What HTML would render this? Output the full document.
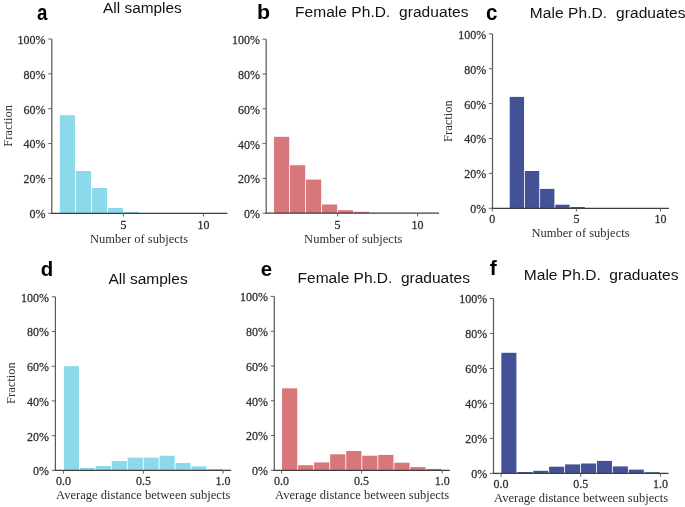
<!DOCTYPE html>
<html><head><meta charset="utf-8"><style>
html,body{margin:0;padding:0;background:#fff;}
body{width:685px;height:507px;overflow:hidden;}
svg{display:block;will-change:transform;}
.tl{font-family:"Liberation Serif", serif;font-size:12.0px;fill:#2e2e2e;stroke:#2e2e2e;stroke-width:0.25px;}
.xl{font-family:"Liberation Serif", serif;font-size:12.55px;fill:#2e2e2e;}
.let{font-family:"Liberation Sans", sans-serif;font-size:21px;font-weight:bold;fill:#000;}
.tt{font-family:"Liberation Sans", sans-serif;font-size:15.4px;fill:#111;white-space:pre;}
</style></head><body>
<svg width="685" height="507" viewBox="0 0 685 507">
<rect width="685" height="507" fill="#fff"/>
<rect x="59.82" y="115.20" width="15.15" height="98.10" fill="#8dd9ec"/>
<rect x="75.83" y="171.00" width="15.15" height="42.30" fill="#8dd9ec"/>
<rect x="91.83" y="188.00" width="15.15" height="25.30" fill="#8dd9ec"/>
<rect x="107.83" y="208.00" width="15.15" height="5.30" fill="#8dd9ec"/>
<rect x="123.83" y="211.80" width="15.15" height="1.50" fill="#8dd9ec"/>
<line x1="51.80" y1="39.00" x2="51.80" y2="213.30" stroke="#5c5c5c" stroke-width="1.25"/>
<line x1="51.10" y1="213.30" x2="227.30" y2="213.30" stroke="#3e3e3e" stroke-width="1.3"/>
<line x1="48.20" y1="213.30" x2="51.80" y2="213.30" stroke="#5a5a5a" stroke-width="0.95"/>
<text transform="translate(45.50,218.20) scale(1,1.1)" text-anchor="end" class="tl">0%</text>
<line x1="48.20" y1="178.44" x2="51.80" y2="178.44" stroke="#5a5a5a" stroke-width="0.95"/>
<text transform="translate(45.50,183.34) scale(1,1.1)" text-anchor="end" class="tl">20%</text>
<line x1="48.20" y1="143.58" x2="51.80" y2="143.58" stroke="#5a5a5a" stroke-width="0.95"/>
<text transform="translate(45.50,148.48) scale(1,1.1)" text-anchor="end" class="tl">40%</text>
<line x1="48.20" y1="108.72" x2="51.80" y2="108.72" stroke="#5a5a5a" stroke-width="0.95"/>
<text transform="translate(45.50,113.62) scale(1,1.1)" text-anchor="end" class="tl">60%</text>
<line x1="48.20" y1="73.86" x2="51.80" y2="73.86" stroke="#5a5a5a" stroke-width="0.95"/>
<text transform="translate(45.50,78.76) scale(1,1.1)" text-anchor="end" class="tl">80%</text>
<line x1="48.20" y1="39.00" x2="51.80" y2="39.00" stroke="#5a5a5a" stroke-width="0.95"/>
<text transform="translate(45.50,43.90) scale(1,1.1)" text-anchor="end" class="tl">100%</text>
<line x1="123.40" y1="213.30" x2="123.40" y2="216.50" stroke="#5a5a5a" stroke-width="0.95"/>
<text transform="translate(123.40,229.10) scale(1,1.1)" text-anchor="middle" class="tl">5</text>
<line x1="203.40" y1="213.30" x2="203.40" y2="216.50" stroke="#5a5a5a" stroke-width="0.95"/>
<text transform="translate(203.40,229.10) scale(1,1.1)" text-anchor="middle" class="tl">10</text>
<text transform="translate(139.10,242.70) scale(1,1.07)" text-anchor="middle" class="xl">Number of subjects</text>
<text x="0" y="0" text-anchor="middle" class="xl" transform="translate(11.80,125.90) rotate(-90) scale(1,1.07)">Fraction</text>
<text transform="translate(37.10,20.00) scale(0.85,1)" class="let" style="font-size:22px">a</text>
<text x="103.07" y="13.00" class="tt" style="font-size:15.4px;letter-spacing:0px" xml:space="preserve">All samples</text>
<rect x="274.03" y="136.80" width="15.15" height="76.40" fill="#d7777a"/>
<rect x="290.03" y="165.20" width="15.15" height="48.00" fill="#d7777a"/>
<rect x="306.03" y="179.60" width="15.15" height="33.60" fill="#d7777a"/>
<rect x="322.03" y="204.50" width="15.15" height="8.70" fill="#d7777a"/>
<rect x="338.03" y="210.20" width="15.15" height="3.00" fill="#d7777a"/>
<rect x="354.03" y="211.80" width="15.15" height="1.40" fill="#d7777a"/>
<line x1="266.20" y1="39.20" x2="266.20" y2="213.20" stroke="#5c5c5c" stroke-width="1.25"/>
<line x1="265.50" y1="213.20" x2="439.10" y2="213.20" stroke="#3e3e3e" stroke-width="1.3"/>
<line x1="262.60" y1="213.20" x2="266.20" y2="213.20" stroke="#5a5a5a" stroke-width="0.95"/>
<text transform="translate(259.90,218.10) scale(1,1.1)" text-anchor="end" class="tl">0%</text>
<line x1="262.60" y1="178.40" x2="266.20" y2="178.40" stroke="#5a5a5a" stroke-width="0.95"/>
<text transform="translate(259.90,183.30) scale(1,1.1)" text-anchor="end" class="tl">20%</text>
<line x1="262.60" y1="143.60" x2="266.20" y2="143.60" stroke="#5a5a5a" stroke-width="0.95"/>
<text transform="translate(259.90,148.50) scale(1,1.1)" text-anchor="end" class="tl">40%</text>
<line x1="262.60" y1="108.80" x2="266.20" y2="108.80" stroke="#5a5a5a" stroke-width="0.95"/>
<text transform="translate(259.90,113.70) scale(1,1.1)" text-anchor="end" class="tl">60%</text>
<line x1="262.60" y1="74.00" x2="266.20" y2="74.00" stroke="#5a5a5a" stroke-width="0.95"/>
<text transform="translate(259.90,78.90) scale(1,1.1)" text-anchor="end" class="tl">80%</text>
<line x1="262.60" y1="39.20" x2="266.20" y2="39.20" stroke="#5a5a5a" stroke-width="0.95"/>
<text transform="translate(259.90,44.10) scale(1,1.1)" text-anchor="end" class="tl">100%</text>
<line x1="337.60" y1="213.20" x2="337.60" y2="216.40" stroke="#5a5a5a" stroke-width="0.95"/>
<text transform="translate(337.60,229.20) scale(1,1.1)" text-anchor="middle" class="tl">5</text>
<line x1="417.60" y1="213.20" x2="417.60" y2="216.40" stroke="#5a5a5a" stroke-width="0.95"/>
<text transform="translate(417.60,229.20) scale(1,1.1)" text-anchor="middle" class="tl">10</text>
<text transform="translate(353.20,242.70) scale(1,1.07)" text-anchor="middle" class="xl">Number of subjects</text>
<text transform="translate(257.00,19.00) scale(1.05,1)" class="let" style="font-size:20.4px">b</text>
<text x="295.00" y="17.00" class="tt" style="font-size:15.5px;letter-spacing:0.05px" xml:space="preserve">Female Ph.D.  graduates</text>
<rect x="509.73" y="96.90" width="14.33" height="111.40" fill="#435296"/>
<rect x="524.90" y="171.00" width="14.33" height="37.30" fill="#435296"/>
<rect x="540.08" y="188.90" width="14.33" height="19.40" fill="#435296"/>
<rect x="555.26" y="204.70" width="14.33" height="3.60" fill="#435296"/>
<rect x="570.44" y="207.00" width="14.33" height="1.30" fill="#435296"/>
<line x1="492.50" y1="33.80" x2="492.50" y2="208.30" stroke="#5c5c5c" stroke-width="1.25"/>
<line x1="491.80" y1="208.30" x2="668.90" y2="208.30" stroke="#3e3e3e" stroke-width="1.3"/>
<line x1="488.90" y1="208.30" x2="492.50" y2="208.30" stroke="#5a5a5a" stroke-width="0.95"/>
<text transform="translate(486.20,213.20) scale(1,1.1)" text-anchor="end" class="tl">0%</text>
<line x1="488.90" y1="173.40" x2="492.50" y2="173.40" stroke="#5a5a5a" stroke-width="0.95"/>
<text transform="translate(486.20,178.30) scale(1,1.1)" text-anchor="end" class="tl">20%</text>
<line x1="488.90" y1="138.50" x2="492.50" y2="138.50" stroke="#5a5a5a" stroke-width="0.95"/>
<text transform="translate(486.20,143.40) scale(1,1.1)" text-anchor="end" class="tl">40%</text>
<line x1="488.90" y1="103.60" x2="492.50" y2="103.60" stroke="#5a5a5a" stroke-width="0.95"/>
<text transform="translate(486.20,108.50) scale(1,1.1)" text-anchor="end" class="tl">60%</text>
<line x1="488.90" y1="68.70" x2="492.50" y2="68.70" stroke="#5a5a5a" stroke-width="0.95"/>
<text transform="translate(486.20,73.60) scale(1,1.1)" text-anchor="end" class="tl">80%</text>
<line x1="488.90" y1="33.80" x2="492.50" y2="33.80" stroke="#5a5a5a" stroke-width="0.95"/>
<text transform="translate(486.20,38.70) scale(1,1.1)" text-anchor="end" class="tl">100%</text>
<line x1="492.30" y1="208.30" x2="492.30" y2="211.50" stroke="#5a5a5a" stroke-width="0.95"/>
<text transform="translate(492.30,223.20) scale(1,1.1)" text-anchor="middle" class="tl">0</text>
<line x1="576.40" y1="208.30" x2="576.40" y2="211.50" stroke="#5a5a5a" stroke-width="0.95"/>
<text transform="translate(576.40,223.20) scale(1,1.1)" text-anchor="middle" class="tl">5</text>
<line x1="660.50" y1="208.30" x2="660.50" y2="211.50" stroke="#5a5a5a" stroke-width="0.95"/>
<text transform="translate(660.50,223.20) scale(1,1.1)" text-anchor="middle" class="tl">10</text>
<text transform="translate(580.50,237.00) scale(1,1.07)" text-anchor="middle" class="xl">Number of subjects</text>
<text x="0" y="0" text-anchor="middle" class="xl" transform="translate(451.50,121.10) rotate(-90) scale(1,1.07)">Fraction</text>
<text transform="translate(486.00,19.60) scale(0.95,1)" class="let" style="font-size:21.6px">c</text>
<text x="529.75" y="18.00" class="tt" style="font-size:15.5px;letter-spacing:0.08px" xml:space="preserve">Male Ph.D.  graduates</text>
<rect x="63.92" y="366.20" width="15.09" height="104.20" fill="#8dd9ec"/>
<rect x="79.86" y="468.00" width="15.09" height="2.40" fill="#8dd9ec"/>
<rect x="95.80" y="466.00" width="15.09" height="4.40" fill="#8dd9ec"/>
<rect x="111.74" y="461.00" width="15.09" height="9.40" fill="#8dd9ec"/>
<rect x="127.68" y="457.70" width="15.09" height="12.70" fill="#8dd9ec"/>
<rect x="143.62" y="457.70" width="15.09" height="12.70" fill="#8dd9ec"/>
<rect x="159.56" y="455.70" width="15.09" height="14.70" fill="#8dd9ec"/>
<rect x="175.50" y="463.00" width="15.09" height="7.40" fill="#8dd9ec"/>
<rect x="191.44" y="466.30" width="15.09" height="4.10" fill="#8dd9ec"/>
<rect x="207.39" y="469.00" width="15.09" height="1.40" fill="#8dd9ec"/>
<line x1="55.40" y1="296.80" x2="55.40" y2="470.40" stroke="#5c5c5c" stroke-width="1.25"/>
<line x1="54.70" y1="470.40" x2="231.20" y2="470.40" stroke="#3e3e3e" stroke-width="1.3"/>
<line x1="51.80" y1="470.40" x2="55.40" y2="470.40" stroke="#5a5a5a" stroke-width="0.95"/>
<text transform="translate(49.10,475.30) scale(1,1.1)" text-anchor="end" class="tl">0%</text>
<line x1="51.80" y1="435.68" x2="55.40" y2="435.68" stroke="#5a5a5a" stroke-width="0.95"/>
<text transform="translate(49.10,440.58) scale(1,1.1)" text-anchor="end" class="tl">20%</text>
<line x1="51.80" y1="400.96" x2="55.40" y2="400.96" stroke="#5a5a5a" stroke-width="0.95"/>
<text transform="translate(49.10,405.86) scale(1,1.1)" text-anchor="end" class="tl">40%</text>
<line x1="51.80" y1="366.24" x2="55.40" y2="366.24" stroke="#5a5a5a" stroke-width="0.95"/>
<text transform="translate(49.10,371.14) scale(1,1.1)" text-anchor="end" class="tl">60%</text>
<line x1="51.80" y1="331.52" x2="55.40" y2="331.52" stroke="#5a5a5a" stroke-width="0.95"/>
<text transform="translate(49.10,336.42) scale(1,1.1)" text-anchor="end" class="tl">80%</text>
<line x1="51.80" y1="296.80" x2="55.40" y2="296.80" stroke="#5a5a5a" stroke-width="0.95"/>
<text transform="translate(49.10,301.70) scale(1,1.1)" text-anchor="end" class="tl">100%</text>
<line x1="63.60" y1="470.40" x2="63.60" y2="473.60" stroke="#5a5a5a" stroke-width="0.95"/>
<text transform="translate(63.60,485.00) scale(1,1.1)" text-anchor="middle" class="tl">0.0</text>
<line x1="143.40" y1="470.40" x2="143.40" y2="473.60" stroke="#5a5a5a" stroke-width="0.95"/>
<text transform="translate(143.40,485.00) scale(1,1.1)" text-anchor="middle" class="tl">0.5</text>
<line x1="223.00" y1="470.40" x2="223.00" y2="473.60" stroke="#5a5a5a" stroke-width="0.95"/>
<text transform="translate(223.00,485.00) scale(1,1.1)" text-anchor="middle" class="tl">1.0</text>
<text transform="translate(143.20,499.00) scale(1,1.07)" text-anchor="middle" class="xl">Average distance between subjects</text>
<text x="0" y="0" text-anchor="middle" class="xl" transform="translate(15.00,383.10) rotate(-90) scale(1,1.07)">Fraction</text>
<text transform="translate(40.76,276.00) scale(1.0,1)" class="let" style="font-size:20.4px">d</text>
<text x="108.40" y="284.00" class="tt" style="font-size:15.5px;letter-spacing:0px" xml:space="preserve">All samples</text>
<rect x="282.03" y="388.30" width="15.19" height="82.00" fill="#d7777a"/>
<rect x="298.07" y="465.20" width="15.19" height="5.10" fill="#d7777a"/>
<rect x="314.11" y="462.40" width="15.19" height="7.90" fill="#d7777a"/>
<rect x="330.15" y="454.30" width="15.19" height="16.00" fill="#d7777a"/>
<rect x="346.19" y="451.00" width="15.19" height="19.30" fill="#d7777a"/>
<rect x="362.23" y="455.70" width="15.19" height="14.60" fill="#d7777a"/>
<rect x="378.27" y="454.90" width="15.19" height="15.40" fill="#d7777a"/>
<rect x="394.31" y="462.70" width="15.19" height="7.60" fill="#d7777a"/>
<rect x="410.35" y="467.10" width="15.19" height="3.20" fill="#d7777a"/>
<rect x="426.39" y="468.90" width="15.19" height="1.40" fill="#d7777a"/>
<line x1="274.30" y1="296.40" x2="274.30" y2="470.30" stroke="#5c5c5c" stroke-width="1.25"/>
<line x1="273.60" y1="470.30" x2="449.80" y2="470.30" stroke="#3e3e3e" stroke-width="1.3"/>
<line x1="270.70" y1="470.30" x2="274.30" y2="470.30" stroke="#5a5a5a" stroke-width="0.95"/>
<text transform="translate(268.00,475.20) scale(1,1.1)" text-anchor="end" class="tl">0%</text>
<line x1="270.70" y1="435.52" x2="274.30" y2="435.52" stroke="#5a5a5a" stroke-width="0.95"/>
<text transform="translate(268.00,440.42) scale(1,1.1)" text-anchor="end" class="tl">20%</text>
<line x1="270.70" y1="400.74" x2="274.30" y2="400.74" stroke="#5a5a5a" stroke-width="0.95"/>
<text transform="translate(268.00,405.64) scale(1,1.1)" text-anchor="end" class="tl">40%</text>
<line x1="270.70" y1="365.96" x2="274.30" y2="365.96" stroke="#5a5a5a" stroke-width="0.95"/>
<text transform="translate(268.00,370.86) scale(1,1.1)" text-anchor="end" class="tl">60%</text>
<line x1="270.70" y1="331.18" x2="274.30" y2="331.18" stroke="#5a5a5a" stroke-width="0.95"/>
<text transform="translate(268.00,336.08) scale(1,1.1)" text-anchor="end" class="tl">80%</text>
<line x1="270.70" y1="296.40" x2="274.30" y2="296.40" stroke="#5a5a5a" stroke-width="0.95"/>
<text transform="translate(268.00,301.30) scale(1,1.1)" text-anchor="end" class="tl">100%</text>
<line x1="281.60" y1="470.30" x2="281.60" y2="473.50" stroke="#5a5a5a" stroke-width="0.95"/>
<text transform="translate(281.60,485.00) scale(1,1.1)" text-anchor="middle" class="tl">0.0</text>
<line x1="361.60" y1="470.30" x2="361.60" y2="473.50" stroke="#5a5a5a" stroke-width="0.95"/>
<text transform="translate(361.60,485.00) scale(1,1.1)" text-anchor="middle" class="tl">0.5</text>
<line x1="442.20" y1="470.30" x2="442.20" y2="473.50" stroke="#5a5a5a" stroke-width="0.95"/>
<text transform="translate(442.20,485.00) scale(1,1.1)" text-anchor="middle" class="tl">1.0</text>
<text transform="translate(362.10,498.70) scale(1,1.07)" text-anchor="middle" class="xl">Average distance between subjects</text>
<text transform="translate(260.70,276.00) scale(1.0,1)" class="let" style="font-size:20.4px">e</text>
<text x="297.60" y="283.00" class="tt" style="font-size:15.5px;letter-spacing:0px" xml:space="preserve">Female Ph.D.  graduates</text>
<rect x="501.32" y="352.80" width="15.08" height="120.60" fill="#435296"/>
<rect x="517.25" y="472.00" width="15.08" height="1.40" fill="#435296"/>
<rect x="533.18" y="470.80" width="15.08" height="2.60" fill="#435296"/>
<rect x="549.11" y="466.70" width="15.08" height="6.70" fill="#435296"/>
<rect x="565.04" y="464.40" width="15.08" height="9.00" fill="#435296"/>
<rect x="580.97" y="463.50" width="15.08" height="9.90" fill="#435296"/>
<rect x="596.90" y="460.90" width="15.08" height="12.50" fill="#435296"/>
<rect x="612.83" y="466.40" width="15.08" height="7.00" fill="#435296"/>
<rect x="628.76" y="469.60" width="15.08" height="3.80" fill="#435296"/>
<rect x="644.69" y="472.20" width="15.08" height="1.20" fill="#435296"/>
<line x1="493.50" y1="298.50" x2="493.50" y2="473.40" stroke="#5c5c5c" stroke-width="1.25"/>
<line x1="492.80" y1="473.40" x2="668.60" y2="473.40" stroke="#3e3e3e" stroke-width="1.3"/>
<line x1="489.90" y1="473.40" x2="493.50" y2="473.40" stroke="#5a5a5a" stroke-width="0.95"/>
<text transform="translate(487.20,478.30) scale(1,1.1)" text-anchor="end" class="tl">0%</text>
<line x1="489.90" y1="438.42" x2="493.50" y2="438.42" stroke="#5a5a5a" stroke-width="0.95"/>
<text transform="translate(487.20,443.32) scale(1,1.1)" text-anchor="end" class="tl">20%</text>
<line x1="489.90" y1="403.44" x2="493.50" y2="403.44" stroke="#5a5a5a" stroke-width="0.95"/>
<text transform="translate(487.20,408.34) scale(1,1.1)" text-anchor="end" class="tl">40%</text>
<line x1="489.90" y1="368.46" x2="493.50" y2="368.46" stroke="#5a5a5a" stroke-width="0.95"/>
<text transform="translate(487.20,373.36) scale(1,1.1)" text-anchor="end" class="tl">60%</text>
<line x1="489.90" y1="333.48" x2="493.50" y2="333.48" stroke="#5a5a5a" stroke-width="0.95"/>
<text transform="translate(487.20,338.38) scale(1,1.1)" text-anchor="end" class="tl">80%</text>
<line x1="489.90" y1="298.50" x2="493.50" y2="298.50" stroke="#5a5a5a" stroke-width="0.95"/>
<text transform="translate(487.20,303.40) scale(1,1.1)" text-anchor="end" class="tl">100%</text>
<line x1="501.10" y1="473.40" x2="501.10" y2="476.60" stroke="#5a5a5a" stroke-width="0.95"/>
<text transform="translate(501.10,487.90) scale(1,1.1)" text-anchor="middle" class="tl">0.0</text>
<line x1="580.80" y1="473.40" x2="580.80" y2="476.60" stroke="#5a5a5a" stroke-width="0.95"/>
<text transform="translate(580.80,487.90) scale(1,1.1)" text-anchor="middle" class="tl">0.5</text>
<line x1="660.40" y1="473.40" x2="660.40" y2="476.60" stroke="#5a5a5a" stroke-width="0.95"/>
<text transform="translate(660.40,487.90) scale(1,1.1)" text-anchor="middle" class="tl">1.0</text>
<text transform="translate(581.10,502.00) scale(1,1.07)" text-anchor="middle" class="xl">Average distance between subjects</text>
<text transform="translate(489.64,275.00) scale(1.0,1)" class="let" style="font-size:21px">f</text>
<text x="523.80" y="280.00" class="tt" style="font-size:15.55px;letter-spacing:0px" xml:space="preserve">Male Ph.D.  graduates</text>
</svg>
</body></html>
